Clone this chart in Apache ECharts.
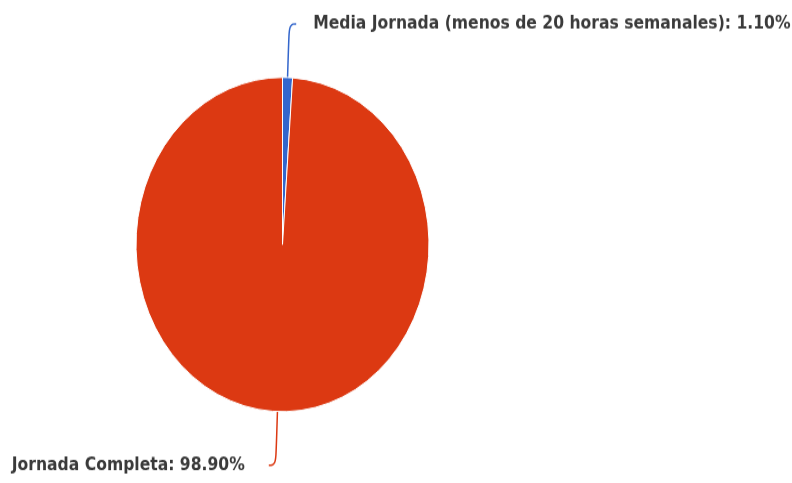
<!DOCTYPE html>
<html>
<head>
<meta charset="utf-8">
<script src="https://cdn.jsdelivr.net/npm/echarts@6/dist/echarts.min.js"></script>
<style>
  html, body { margin: 0; padding: 0; background: #ffffff; overflow: hidden; }
  #wrap { width: 792px; height: 483px; overflow: hidden; }
  /* the pie is drawn slightly taller than wide */
  #chart { width: 792px; height: 423px; transform: scaleY(1.141); transform-origin: 0 0; }
</style>
</head>
<body>
<div id="wrap"><div id="chart"></div></div>
<script>
const categories = ['Media Jornada (menos de 20 horas semanales)', 'Jornada Completa'];
const percentages = [1.10, 98.90];
const sliceColors = ['#3366cc', '#dc3912'];
const labelNudge = [[2, 0, 0, 0], [8, 0, 0, 0]];
const labelGap = [17, 24];

const chart = echarts.init(document.getElementById('chart'), null, { renderer: 'canvas' });

chart.setOption({
  animation: false,
  backgroundColor: '#ffffff',
  color: sliceColors,
  series: [{
    type: 'pie',
    center: [282.5, 214.3],
    radius: [0, 146.5],
    startAngle: 90,
    clockwise: true,
    avoidLabelOverlap: false,
    emphasis: { disabled: true },
    itemStyle: { borderColor: '#ffffff', borderWidth: 1 },
    label: {
      show: true,
      position: 'outside',
      color: '#3a3a3a',
      fontFamily: 'DejaVu Sans',
      fontWeight: 'bold',
      fontSize: 15.6,
      distanceToLabelLine: 20,
      formatter: p => p.name + ': ' + p.value.toFixed(2) + '%'
    },
    labelLine: {
      show: true,
      length: 47,
      length2: 7,
      smooth: 0.5,
      lineStyle: { width: 1.5 }
    },
    data: categories.map((name, i) => ({
      name: name,
      value: percentages[i],
      label: { padding: labelNudge[i], distanceToLabelLine: labelGap[i] }
    }))
  }]
});
</script>
</body>
</html>
